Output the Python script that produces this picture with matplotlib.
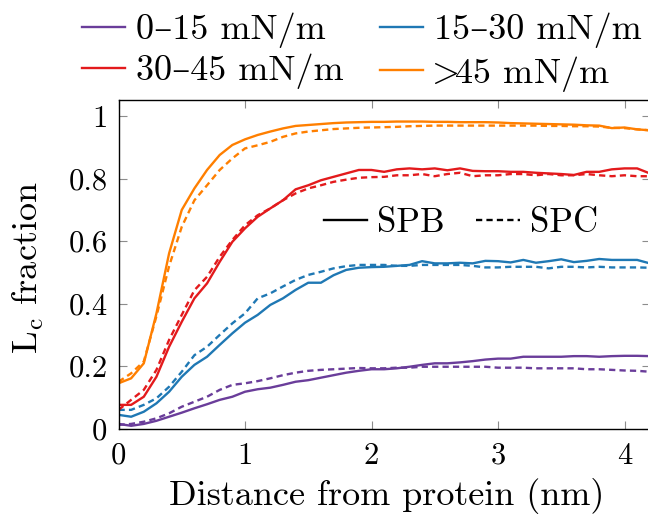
import matplotlib
matplotlib.use('Agg')
import matplotlib.pyplot as plt
from matplotlib.lines import Line2D

# ----------------------------------------------------------------
# Podatki (odčitani s slike), x v korakih po 0.1 nm
# ----------------------------------------------------------------
razdalja = [round(0.1 * i, 1) for i in range(43)]

spb_0_15 = [0.015, 0.009, 0.015, 0.025, 0.038, 0.051, 0.065, 0.078, 0.092, 0.102,
            0.118, 0.126, 0.131, 0.140, 0.150, 0.155, 0.163, 0.171, 0.179, 0.185,
            0.190, 0.190, 0.193, 0.198, 0.204, 0.209, 0.209, 0.212, 0.216, 0.221,
            0.224, 0.224, 0.230, 0.230, 0.230, 0.230, 0.232, 0.232, 0.230, 0.232,
            0.233, 0.233, 0.232]
spc_0_15 = [0.012, 0.015, 0.022, 0.033, 0.049, 0.070, 0.086, 0.102, 0.124, 0.140,
            0.145, 0.152, 0.161, 0.171, 0.179, 0.185, 0.188, 0.190, 0.192, 0.194,
            0.193, 0.193, 0.195, 0.195, 0.198, 0.198, 0.198, 0.198, 0.198, 0.198,
            0.195, 0.195, 0.195, 0.193, 0.193, 0.193, 0.193, 0.190, 0.190, 0.188,
            0.186, 0.185, 0.182]

spb_15_30 = [0.044, 0.038, 0.054, 0.081, 0.118, 0.166, 0.204, 0.230, 0.268, 0.305,
             0.339, 0.364, 0.396, 0.417, 0.444, 0.467, 0.467, 0.491, 0.508, 0.515,
             0.517, 0.518, 0.521, 0.524, 0.536, 0.529, 0.529, 0.531, 0.529, 0.537,
             0.536, 0.532, 0.540, 0.531, 0.536, 0.542, 0.533, 0.537, 0.543, 0.540,
             0.540, 0.540, 0.529]
spc_15_30 = [0.060, 0.060, 0.076, 0.097, 0.134, 0.182, 0.235, 0.262, 0.300, 0.337,
             0.369, 0.417, 0.433, 0.455, 0.476, 0.492, 0.502, 0.513, 0.520, 0.524,
             0.524, 0.524, 0.521, 0.521, 0.524, 0.524, 0.524, 0.524, 0.521, 0.516,
             0.516, 0.518, 0.518, 0.518, 0.513, 0.518, 0.518, 0.516, 0.518, 0.516,
             0.516, 0.516, 0.515]

spb_30_45 = [0.076, 0.076, 0.102, 0.166, 0.262, 0.342, 0.417, 0.465, 0.534, 0.598,
             0.641, 0.678, 0.705, 0.731, 0.766, 0.779, 0.795, 0.806, 0.817, 0.828,
             0.828, 0.822, 0.830, 0.833, 0.830, 0.833, 0.827, 0.833, 0.825, 0.824,
             0.824, 0.822, 0.822, 0.819, 0.817, 0.815, 0.812, 0.822, 0.822, 0.830,
             0.833, 0.833, 0.817]
spc_30_45 = [0.060, 0.092, 0.124, 0.188, 0.284, 0.364, 0.443, 0.486, 0.550, 0.604,
             0.651, 0.683, 0.705, 0.731, 0.753, 0.769, 0.779, 0.790, 0.797, 0.803,
             0.805, 0.806, 0.811, 0.811, 0.815, 0.808, 0.815, 0.819, 0.808, 0.811,
             0.811, 0.815, 0.815, 0.811, 0.815, 0.811, 0.811, 0.815, 0.811, 0.808,
             0.811, 0.808, 0.808]

spb_45 = [0.145, 0.161, 0.209, 0.369, 0.561, 0.700, 0.769, 0.828, 0.876, 0.908,
          0.926, 0.940, 0.951, 0.961, 0.969, 0.972, 0.975, 0.978, 0.980, 0.981,
          0.982, 0.982, 0.983, 0.983, 0.983, 0.982, 0.982, 0.981, 0.981, 0.981,
          0.980, 0.978, 0.977, 0.976, 0.975, 0.974, 0.973, 0.971, 0.970, 0.962,
          0.964, 0.958, 0.955]
spc_45 = [0.150, 0.177, 0.215, 0.360, 0.520, 0.646, 0.731, 0.779, 0.828, 0.865,
          0.897, 0.907, 0.918, 0.934, 0.945, 0.951, 0.955, 0.959, 0.961, 0.963,
          0.964, 0.965, 0.966, 0.968, 0.969, 0.970, 0.970, 0.970, 0.970, 0.970,
          0.970, 0.970, 0.970, 0.970, 0.969, 0.969, 0.968, 0.968, 0.967, 0.963,
          0.962, 0.958, 0.955]

# ">" prek mathtext (cmr10 nima tega znaka), \! odstrani presledke relacije
oznake_skupin = ['0–15 mN/m', '15–30 mN/m', '30–45 mN/m', r'$\!\!>\!\!$45 mN/m']
barve = ['#6a3d9a', '#1f78b4', '#e31a1c', '#ff7f00']
spb_serije = [spb_0_15, spb_15_30, spb_30_45, spb_45]
spc_serije = [spc_0_15, spc_15_30, spc_30_45, spc_45]

x_ticks = [0, 1, 2, 3, 4]
y_ticks = [0, 0.2, 0.4, 0.6, 0.8, 1.0]
y_tick_oznake = ['0', '0.2', '0.4', '0.6', '0.8', '1']

# ----------------------------------------------------------------
# Slog (pgfplots videz)
# ----------------------------------------------------------------
plt.rcParams['font.family'] = ['cmr10', 'DejaVu Serif']
plt.rcParams['mathtext.fontset'] = 'cm'
plt.rcParams['axes.formatter.use_mathtext'] = True
plt.rcParams['lines.scale_dashes'] = False

fig = plt.figure(figsize=(6.48, 5.16), dpi=100)
ax = fig.add_axes([118.5 / 648, 87.4 / 516, 531.3 / 648, 328.6 / 516])

lw = 1.7
crtkano = (4.5, 3.0)
for barva, spb, spc in zip(barve, spb_serije, spc_serije):
    ax.plot(razdalja, spc, color=barva, lw=lw, dashes=crtkano)
    ax.plot(razdalja, spb, color=barva, lw=lw)

ax.set_xlim(0, 4.2)
ax.set_ylim(0, 1.052)
ax.set_xticks(x_ticks)
ax.set_xticklabels([str(v) for v in x_ticks])
ax.set_yticks(y_ticks)
ax.set_yticklabels(y_tick_oznake)
ax.tick_params(direction='in', length=6, width=0.8, color='#8c8c8c',
               top=True, right=True, labelsize=22)
ax.tick_params(axis='x', pad=10)
ax.tick_params(axis='y', pad=8)
for s in ax.spines.values():
    s.set_linewidth(1.0)

ax.set_xlabel('Distance from protein (nm)', fontsize=26, va='center')
ax.set_ylabel(r'$\mathrm{L_c}$ fraction', fontsize=26, va='center')
ax.xaxis.set_label_coords(0.505, -0.205)
ax.yaxis.set_label_coords(-0.17, 0.49)

# legenda skupin nad grafom (vrstni red: po vrsticah)
vrstni_red = [0, 2, 1, 3]
ročaji = [Line2D([], [], color=barve[i], lw=lw) for i in vrstni_red]
leg1 = fig.legend(ročaji, [oznake_skupin[i] for i in vrstni_red], ncol=2,
                  loc='upper left', bbox_to_anchor=(0.121, 0.982),
                  frameon=False, fontsize=26, handlelength=1.2,
                  handletextpad=0.3, columnspacing=1.0,
                  labelspacing=0.15, borderaxespad=0, borderpad=0.1)

# legenda SPB / SPC v grafu
ročaji2 = [Line2D([], [], color='black', lw=lw),
           Line2D([], [], color='black', lw=lw, dashes=crtkano)]
ax.legend(ročaji2, ['SPB', 'SPC'], ncol=2, loc='center left',
          bbox_to_anchor=(0.36, 0.625), frameon=False, fontsize=25,
          handlelength=1.25, handletextpad=0.3, columnspacing=0.9,
          borderaxespad=0)

plt.savefig('out.png', dpi=100)
